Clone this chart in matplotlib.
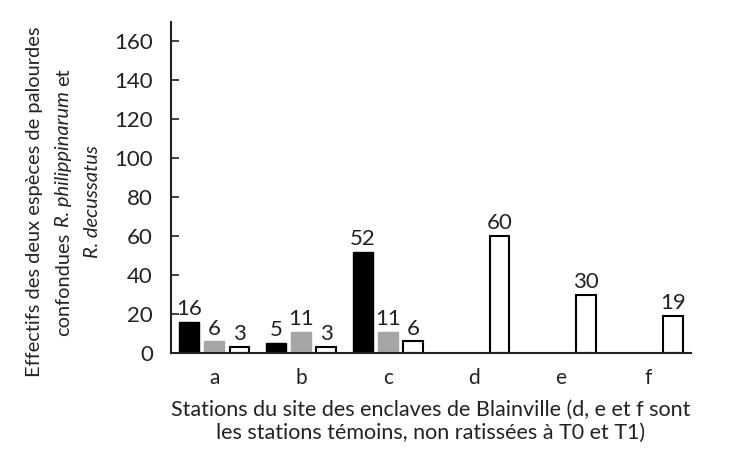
import numpy as np
import matplotlib
matplotlib.use("Agg")
import matplotlib.pyplot as plt

plt.rcParams['font.family'] = ['Lato', 'DejaVu Sans']

categories = ['a', 'b', 'c', 'd', 'e', 'f']
series_black = [16, 5, 52, None, None, None]
series_gray = [6, 11, 11, None, None, None]
series_white = [3, 3, 6, 60, 30, 19]
y_ticks = [0, 20, 40, 60, 80, 100, 120, 140, 160]
# y-label lines as (text, italic) pieces
ylabel_lines = [
    [("Effectifs des deux espèces de palourdes", False)],
    [("confondues", False), ("R. philippinarum", True), ("et", False)],
    [("R. decussatus", True)],
]

fig = plt.figure(figsize=(7.35, 4.54), dpi=100)
ax = fig.add_axes([0.2327, 0.2225, 0.7075, 0.729])

x = np.arange(len(categories))
w = 0.23
off = 0.29
styles = [
    (series_black, -off, dict(color='black', edgecolor='black')),
    (series_gray, 0.0, dict(color='#a6a6a6', edgecolor='#a6a6a6')),
    (series_white, off, dict(color='white', edgecolor='black', linewidth=1.5)),
]
for vals, dx, kw in styles:
    for xi, v in zip(x, vals):
        if v is None:
            continue
        ax.bar(xi + dx, v, width=w, **kw)
        ax.annotate(str(v), (xi + dx, v), xytext=(0, 2), textcoords='offset points',
                    ha='center', va='bottom', fontsize=16, color='#222222')

ax.set_xlim(-0.5, 5.5)
ax.set_ylim(0, 170)
ax.set_yticks(y_ticks)
ax.set_xticks(x)
ax.set_xticklabels(categories)
ax.tick_params(axis='y', direction='in', length=6, width=1.2, labelsize=16, pad=13, colors='#222222')
ax.tick_params(axis='x', length=0, labelsize=15, pad=11, colors='#222222')
for s in ['top', 'right']:
    ax.spines[s].set_visible(False)
for s in ['left', 'bottom']:
    ax.spines[s].set_linewidth(1.5)
    ax.spines[s].set_color('#222222')

ax.set_xlabel("Stations du site des enclaves de Blainville (d, e et f sont\nles stations témoins, non ratissées à T0 et T1)",
              fontsize=15.5, labelpad=8, color='#222222', linespacing=1.2)

# y label built from pieces (mixed roman / italic), centred per line
renderer = fig.canvas.get_renderer()
fs = 14.4
H = 454.0
yc = 202.0  # centre of label in pixels from top


def text_len(s, italic):
    t = fig.text(0, 0, s, fontsize=fs, fontstyle='italic' if italic else 'normal')
    L = t.get_window_extent(renderer).width
    t.remove()
    return L

space = text_len("a a", False) - text_len("aa", False)

for xpix, pieces in zip([35, 64, 92], ylabel_lines):
    lens = [text_len(s, it) for s, it in pieces]
    total = sum(lens) + space * (len(pieces) - 1)
    ypos = (H - yc) - total / 2.0  # bottom start in pixels from bottom
    for (s, it), L in zip(pieces, lens):
        fig.text(xpix / 735.0, ypos / H, s, rotation=90, ha='center', va='bottom',
                 fontsize=fs, fontstyle='italic' if it else 'normal', color='#222222')
        ypos += L + space

fig.savefig('out.png', dpi=100)
